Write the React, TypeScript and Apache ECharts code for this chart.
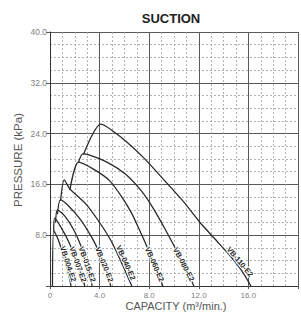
import React, { useEffect, useRef } from "react";
import * as echarts from "echarts";

// Capacity (m³/min.) vs suction pressure (kPa)
const modelNames = ["VB-004-E2", "VB-007-E2", "VB-015-E2", "VB-020-E2", "VB-040-E2", "VB-060-E2", "VB-080-E2", "VB-110-E2"];

const vb004: number[][] = [[0.2, 0], [0.3, 8.7], [0.6, 7.6], [1.0, 5.4], [1.4, 2.8], [1.7, 0]];
const vb007: number[][] = [[0.3, 8.7], [0.38, 10.7], [0.9, 9.2], [1.5, 7.0], [2.0, 4.6], [2.5, 2.2], [2.8, 0]];
const vb015: number[][] = [[0.45, 10.0], [0.6, 12.0], [1.2, 11.0], [1.9, 8.9], [2.5, 6.3], [3.0, 3.4], [3.4, 0]];
const vb020: number[][] = [[0.6, 11.3], [0.85, 13.6], [1.5, 12.6], [2.4, 10.6], [3.3, 7.9], [4.0, 5.2], [4.5, 2.8], [4.9, 0]];
const vb040: number[][] = [[0.85, 13.4], [1.15, 16.7], [1.6, 15.3], [2.9, 12.9], [4.0, 10.0], [4.9, 7.2], [5.6, 4.4], [6.1, 2.2], [6.6, 0]];
const vb060: number[][] = [[1.6, 15.1], [2.3, 19.5], [3.5, 18.4], [4.8, 16.6], [5.8, 14.0], [6.6, 11.4], [7.2, 8.9], [8.0, 5.4], [8.6, 2.6], [9.1, 0]];
const vb080: number[][] = [[2.3, 19.5], [2.65, 20.8], [3.2, 20.6], [4.7, 19.4], [6.1, 17.6], [7.4, 14.9], [8.4, 12.0], [9.3, 8.9], [10.2, 5.6], [11.0, 2.6], [11.6, 0]];
const vb110: number[][] = [[2.7, 20.7], [4.1, 25.5], [5.8, 23.3], [7.6, 20.1], [9.1, 16.9], [10.8, 13.2], [12.1, 10.0], [13.4, 7.2], [14.6, 4.6], [15.5, 2.3], [16.2, 0]];

const curves = [vb004, vb007, vb015, vb020, vb040, vb060, vb080, vb110];

const xTicks = [0, 4, 8, 12, 16, 20];
const yTicks = [0, 8, 16, 24, 32, 40];

// label styling (degrees clockwise, pixel shift to the right of the curve)
const labelRotate = [72, 70, 70, 68, 66, 66, 62, 50];
const labelShift = [2, 0, 0, 0, 4, 0, 0, 4];
const labelAtPressure = 3.4;

function pointAtY(data: number[][], y: number): number[] {
  for (let i = data.length - 1; i > 0; i--) {
    const a = data[i - 1];
    const b = data[i];
    if (a[1] >= y && b[1] <= y && a[0] < b[0]) {
      const t = (a[1] - y) / (a[1] - b[1]);
      return [a[0] + t * (b[0] - a[0]), y];
    }
  }
  return data[data.length - 1];
}

export default function App() {
  const ref = useRef<HTMLDivElement>(null);
  useEffect(() => {
    if (!ref.current) return;
    const chart = echarts.init(ref.current, undefined, { renderer: "svg" });
    const font = "Liberation Sans, Arial, sans-serif";
    const series: any[] = curves.map((d, i) => ({
      type: "line",
      name: modelNames[i],
      data: d,
      smooth: 0.25,
      showSymbol: false,
      symbol: "none",
      lineStyle: { color: "#2a2a2a", width: 1.3 },
      z: 5,
    }));
    const baseGraphic: any[] = [
      {
        type: "text",
        x: 171,
        y: 18,
        style: { text: "SUCTION", fill: "#222", font: `bold 13px ${font}`, align: "center", verticalAlign: "middle" },
      },
      {
        type: "text",
        x: 176,
        y: 306,
        style: { text: "CAPACITY (m³/min.)", fill: "#555", font: `11px ${font}`, align: "center", verticalAlign: "middle" },
      },
      {
        type: "text",
        x: 18,
        y: 160,
        rotation: Math.PI / 2,
        style: { text: "PRESSURE (kPa)", fill: "#555", font: `11.5px ${font}`, align: "center", verticalAlign: "middle" },
      },
    ];
    chart.setOption({
      animation: false,
      grid: { left: 50, right: -3, top: 32, bottom: 28 },
      xAxis: {
        type: "value",
        min: xTicks[0],
        max: xTicks[xTicks.length - 1],
        interval: 4,
        axisLine: { show: true, lineStyle: { color: "#333", width: 1 } },
        axisTick: { show: true, length: 3, lineStyle: { color: "#555" } },
        axisLabel: {
          color: "#808080",
          fontSize: 8,
          fontFamily: font,
          margin: 5,
          formatter: (v: number) => (v === 0 ? "0" : v === 20 ? "" : v.toFixed(1)),
        },
        splitLine: { show: true, lineStyle: { color: "#5a5a5a", width: 1 } },
        minorTick: { show: false, splitNumber: 4 },
        minorSplitLine: { show: true, lineStyle: { color: "#a0a0a0", width: 0.8, type: [2, 2] } },
      },
      yAxis: {
        type: "value",
        min: yTicks[0],
        max: yTicks[yTicks.length - 1],
        interval: 8,
        axisLine: { show: true, lineStyle: { color: "#333", width: 1 } },
        axisTick: { show: true, length: 4, lineStyle: { color: "#555" } },
        axisLabel: {
          color: "#808080",
          fontSize: 8.5,
          fontFamily: font,
          margin: 3,
          formatter: (v: number) => (v === 0 ? "" : v.toFixed(1)),
        },
        splitLine: { show: true, lineStyle: { color: "#5a5a5a", width: 1 } },
        minorTick: { show: false, splitNumber: 4 },
        minorSplitLine: { show: true, lineStyle: { color: "#a0a0a0", width: 0.8, type: [2, 2] } },
      },
      graphic: baseGraphic,
      series,
    });
    // curve labels placed through the chart's own scales
    const labels = curves.map((d, i) => {
      const p = chart.convertToPixel({ gridIndex: 0 }, pointAtY(d, labelAtPressure)) as number[];
      const ang = (labelRotate[i] * Math.PI) / 180;
      const sx = labelShift[i] * Math.sin(ang);
      const sy = -labelShift[i] * Math.cos(ang);
      return {
        type: "text",
        x: p[0] + sx,
        y: p[1] + sy,
        rotation: -ang,
        z: 10,
        style: {
          text: modelNames[i],
          fill: "#2a2a2a",
          font: `bold 7.5px ${font}`,
          align: "center",
          verticalAlign: "middle",
          stroke: "#fff",
          lineWidth: 2,
        },
      };
    });
    chart.setOption({ graphic: [...baseGraphic, ...labels] });
    return () => chart.dispose();
  }, []);
  return <div ref={ref} style={{ position: "fixed", left: 0, top: 0, width: 301, height: 314, background: "#fff" }} />;
}
